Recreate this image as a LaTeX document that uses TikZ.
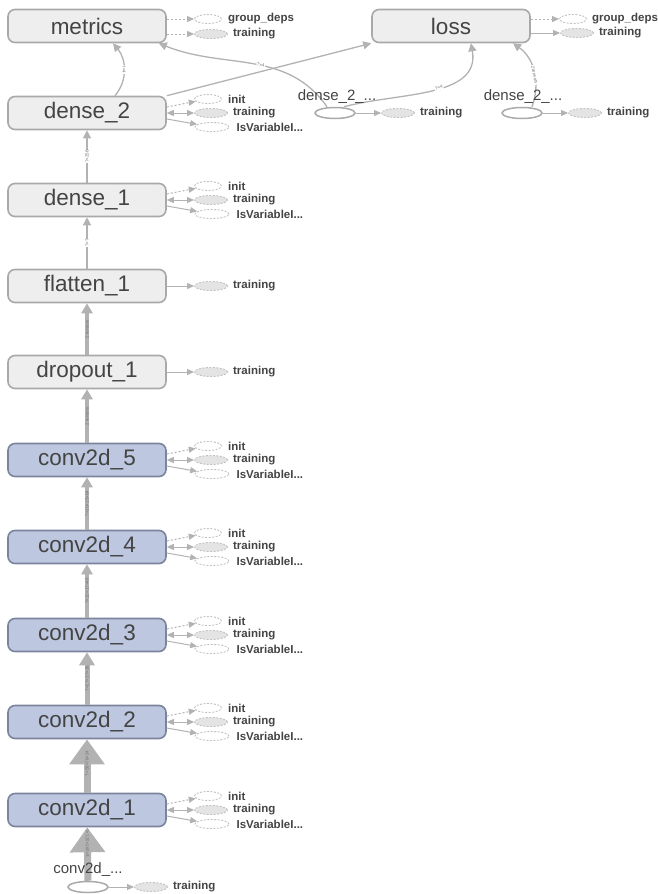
\documentclass[tikz,border=0pt]{standalone}
\usepackage{fontspec}
\setmainfont{Liberation Sans}
\usetikzlibrary{arrows.meta,shapes.geometric}

\definecolor{opfill}{HTML}{EEEEEE}
\definecolor{opline}{HTML}{A9A9A9}
\definecolor{convfill}{HTML}{BDC7DF}
\definecolor{convline}{HTML}{7A859B}
\definecolor{edgegray}{HTML}{B2B2B2}
\definecolor{txtgray}{HTML}{444444}
\definecolor{auxgray}{HTML}{C2C2C2}
\definecolor{auxfill}{HTML}{E4E4E4}

\tikzset{
  opnode/.style={draw=opline, fill=opfill, line width=1.6pt, rounded corners=7pt,
    minimum width=158pt, minimum height=33pt, text=txtgray,
    font=\fontsize{22.5}{22.5}\selectfont},
  convnode/.style={opnode, draw=convline, fill=convfill},
  auxnode/.style={ellipse, draw=auxgray, dash pattern=on 2pt off 1.5pt, line width=0.9pt,
    minimum width=27pt, minimum height=9pt, inner sep=0pt},
  auxfilled/.style={auxnode, fill=auxfill, minimum width=33pt},
  auxwide/.style={auxnode, minimum width=34pt},
  constnode/.style={ellipse, draw=opline, line width=1.5pt, minimum width=40pt,
    minimum height=11pt, inner sep=0pt},
  consttext/.style={inner sep=0pt, text=txtgray, font=\fontsize{15}{15}\selectfont},
  auxtext/.style={anchor=west, inner sep=0pt, text=txtgray,
    font=\bfseries\fontsize{11.5}{11.5}\selectfont},
  auxflow/.style={draw=edgegray, line width=1pt, ->},
  auxdash/.style={auxflow, dash pattern=on 2pt off 2pt},
  thinflow/.style={draw=edgegray, line width=1.3pt, -{Triangle[length=8pt,width=8pt]}},
  midflow/.style={draw=edgegray, line width=3.5pt, -{Triangle[length=10pt,width=11pt]}},
  fatflow/.style={draw=edgegray, line width=5pt, -{Triangle[length=13pt,width=15pt]}},
  hugeflow/.style={draw=edgegray, line width=7pt, -{Triangle[length=25pt,width=34pt]}},
  elabel/.style={sloped, inner sep=0.6pt, text=txtgray!75, font=\fontsize{4.5}{4.5}\selectfont},
}

\begin{document}
\begin{tikzpicture}[x=1pt, y=-1pt, >={Triangle[length=7pt,width=6pt]}]
\useasboundingbox (0,0) rectangle (657,894);

% Main operation nodes
\node[opnode] (metrics) at (87,26) {metrics};
\node[opnode] (loss) at (451,26) {loss};
\node[opnode] (dense2) at (87,113) {dense\_2};
\node[opnode] (dense1) at (87,200) {dense\_1};
\node[opnode] (flatten1) at (87,286) {flatten\_1};
\node[opnode] (dropout1) at (87,372) {dropout\_1};
\node[convnode] (conv5) at (87,460) {conv2d\_5};
\node[convnode] (conv4) at (87,547) {conv2d\_4};
\node[convnode] (conv3) at (87,635) {conv2d\_3};
\node[convnode] (conv2) at (87,722) {conv2d\_2};
\node[convnode] (conv1) at (87,810) {conv2d\_1};

% Constant (input) nodes
\node[constnode] (den2a) at (335,113) {};
\node[constnode] (den2b) at (522,113) {};
\node[constnode] (convin) at (88,887) {};

% Side nodes of the layers with weights
\foreach \n/\y in {dense2/113, dense1/200, conv5/460, conv4/547, conv3/635, conv2/722, conv1/810}{
  \node[auxnode] (\n-init) at (208,\y-14) {};
  \node[auxfilled] (\n-tr) at (211,\y) {};
  \node[auxwide] (\n-iv) at (212,\y+14) {};
  \node[auxtext] (\n-init-t) at ([xshift=6pt]\n-init.east) {init};
  \node[auxtext] (\n-tr-t) at ([xshift=5pt]\n-tr.east) {training};
  \node[auxtext] (\n-iv-t) at ([xshift=7pt]\n-iv.east) {IsVariableI...};
  \draw[auxdash] ([yshift=6pt]\n.east) -- (\n-init);
  \draw[auxflow, <->] (\n.east) -- (\n-tr);
  \draw[auxflow] ([yshift=-6pt]\n.east) -- (\n-iv);
}

% Side nodes of metrics
\node[auxnode] (metrics-gd) at (208,19) {};
\node[auxfilled] (metrics-tr) at (211,34) {};
\node[auxtext] (metrics-gd-t) at ([xshift=6pt]metrics-gd.east) {group\_deps};
\node[auxtext] (metrics-tr-t) at ([xshift=5pt]metrics-tr.east) {training};
\draw[auxdash] ([yshift=7pt]metrics.east) -- (metrics-gd);
\draw[auxdash] ([yshift=-8pt]metrics.east) -- (metrics-tr);

% Side nodes of loss
\node[auxnode] (loss-gd) at (573,19) {};
\node[auxfilled] (loss-tr) at (577,33) {};
\node[auxtext] (loss-gd-t) at ([xshift=5pt]loss-gd.east) {group\_deps};
\node[auxtext] (loss-tr-t) at ([xshift=5pt]loss-tr.east) {training};
\draw[auxdash] ([yshift=7pt]loss.east) -- (loss-gd);
\draw[auxflow] ([yshift=-7pt]loss.east) -- (loss-tr);

% Side nodes of flatten_1 and dropout_1
\node[auxfilled] (flatten1-tr) at (211,286) {};
\node[auxtext] (flatten1-tr-t) at ([xshift=5pt]flatten1-tr.east) {training};
\draw[auxflow] (flatten1) -- (flatten1-tr);
\node[auxfilled] (dropout1-tr) at (211,372) {};
\node[auxtext] (dropout1-tr-t) at ([xshift=5pt]dropout1-tr.east) {training};
\draw[auxflow] (dropout1) -- (dropout1-tr);

% Side nodes of the constants
\node[auxfilled] (den2a-tr) at (398,113) {};
\node[auxtext] (den2a-tr-t) at ([xshift=5pt]den2a-tr.east) {training};
\draw[auxflow] (den2a) -- (den2a-tr);
\node[auxfilled] (den2b-tr) at (585,113) {};
\node[auxtext] (den2b-tr-t) at ([xshift=5pt]den2b-tr.east) {training};
\draw[auxflow] (den2b) -- (den2b-tr);
\node[auxfilled] (convin-tr) at (151,887) {};
\node[auxtext] (convin-tr-t) at ([xshift=5pt]convin-tr.east) {training};
\draw[auxflow] (convin) -- (convin-tr);

% Main data flow
\draw[hugeflow] (convin) -- node[elabel, pos=0.7] {?×120×160×3} (conv1);
\draw[hugeflow] (conv1) -- node[elabel, pos=0.55] {?×58×78×24} (conv2);
\draw[fatflow] (conv2) -- node[elabel] {?×27×37×36} (conv3);
\draw[midflow] (conv3) -- node[elabel] {?×12×17×48} (conv4);
\draw[midflow] (conv4) -- node[elabel] {?×10×15×64} (conv5);
\draw[midflow] (conv5) -- node[elabel] {2 tensors} (dropout1);
\draw[midflow] (dropout1) -- node[elabel] {2 tensors} (flatten1);
\draw[thinflow] (flatten1) -- node[elabel, fill=white] {?×?} (dense1);
\draw[thinflow] (dense1) -- node[elabel, fill=white] {?×256} (dense2);

% Flow into metrics and loss
\draw[thinflow] ([xshift=28pt]dense2.north) to[out=50, in=-50]
  node[elabel, fill=white] {?×4} ([xshift=26pt]metrics.south);
\draw[thinflow] (dense2.north east) -- (loss.south west);
\draw[thinflow] ([xshift=-8pt]den2a.north) to[out=125, in=-22]
  node[elabel, fill=white, pos=0.45] {?×4} ([xshift=-8pt]metrics.south east);
\draw[thinflow] ([xshift=9pt]den2a.north) to[out=15, in=-80]
  node[elabel, fill=white, pos=0.55] {?×4} ([xshift=20pt]loss.south);
\draw[thinflow] ([xshift=10pt]den2b.north) to[out=70, in=-35]
  node[elabel, fill=white, pos=0.45] {2 tensors} ([xshift=62pt]loss.south);

% Labels of the constants
\node[consttext] (den2a-t) at (337,97) {dense\_2\_...};
\node[consttext] (den2b-t) at (523,97) {dense\_2\_...};
\node[consttext] (convin-t) at (88,870) {conv2d\_...};

\end{tikzpicture}
\end{document}
